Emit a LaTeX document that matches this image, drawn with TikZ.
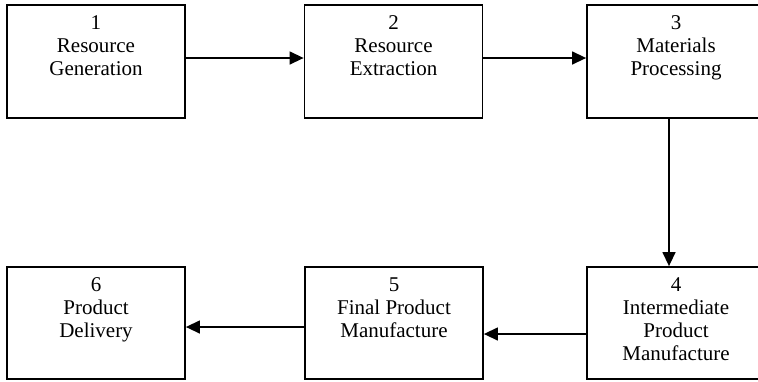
\documentclass[tikz,border=0pt]{standalone}
\usepackage{fontspec}
\setmainfont{Liberation Serif}
\usetikzlibrary{arrows.meta}
\begin{document}
\begin{tikzpicture}[x=1pt,y=1pt,
  stage/.style={draw, line width=1.8pt, minimum width=178pt, minimum height=113pt, inner sep=0pt},
  caption/.style={anchor=north, align=center, inner sep=0pt, font=\fontsize{21}{23}\selectfont},
  flow/.style={line width=1.4pt, -{Triangle[length=14pt,width=13pt]}}]
\useasboundingbox (0,0) rectangle (758,-381);
% upper row of stages
\node[stage] (b1) at (96,-61.5) {};
\node[stage] (b2) at (393.5,-61.5) {};
\node[stage] (b3) at (676,-61.5) {};
% lower row of stages
\node[stage, minimum height=112pt] (b6) at (96,-323) {};
\node[stage, minimum height=112pt] (b5) at (394,-323) {};
\node[stage, minimum height=112pt] (b4) at (676,-323) {};
% stage captions
\node[caption] (t1) at ([yshift=-11pt]b1.north) {1\\Resource\\Generation};
\node[caption] (t2) at ([yshift=-11pt]b2.north) {2\\Resource\\Extraction};
\node[caption] (t3) at ([yshift=-11pt]b3.north) {3\\Materials\\Processing};
\node[caption] (t4) at ([yshift=-11pt]b4.north) {4\\Intermediate\\Product\\Manufacture};
\node[caption] (t5) at ([yshift=-11pt]b5.north) {5\\Final Product\\Manufacture};
\node[caption] (t6) at ([yshift=-11pt]b6.north) {6\\Product\\Delivery};
% flow between stages
\draw[flow] ([yshift=3.5pt]b1.east) -- ([yshift=3.5pt]b2.west);
\draw[flow] ([yshift=3.5pt]b2.east) -- ([yshift=3.5pt]b3.west);
\draw[flow] ([xshift=-7pt]b3.south) -- ([xshift=-7pt]b4.north);
\draw[flow] ([yshift=-11pt]b4.west) -- ([yshift=-11pt]b5.east);
\draw[flow] ([yshift=-4pt]b5.west) -- ([yshift=-4pt]b6.east);
\end{tikzpicture}
\end{document}
